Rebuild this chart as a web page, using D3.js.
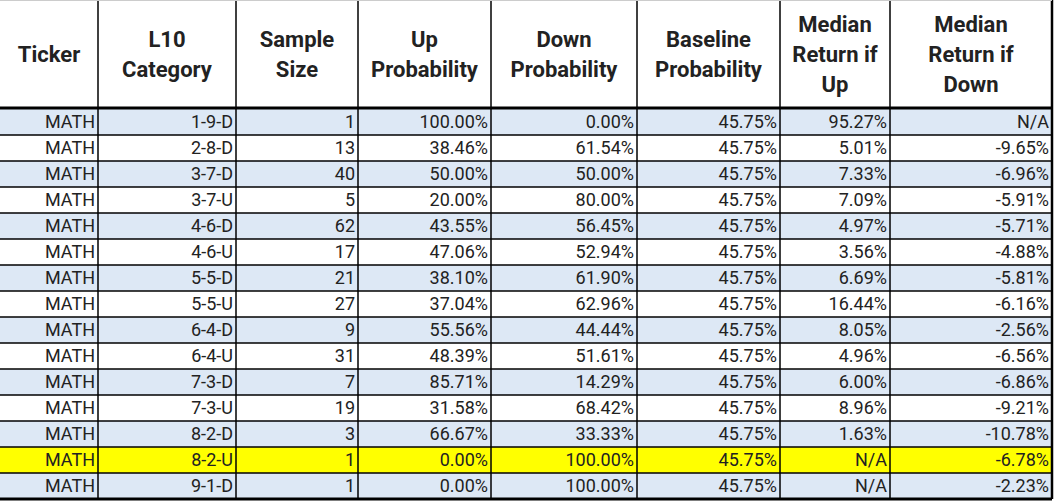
<!DOCTYPE html><html><head><meta charset="utf-8"><script src="https://cdn.jsdelivr.net/npm/d3@7"></script>
<style>body{margin:0;background:#fff}text{font-family:Roboto,sans-serif}</style></head><body><svg id="s" width="1055" height="501"></svg>
<script>
const headers=[["Ticker"],["L10","Category"],["Sample","Size"],["Up","Probability"],["Down","Probability"],["Baseline","Probability"],["Median","Return if","Up"],["Median","Return if","Down"]];
const categories=["1-9-D","2-8-D","3-7-D","3-7-U","4-6-D","4-6-U","5-5-D","5-5-U","6-4-D","6-4-U","7-3-D","7-3-U","8-2-D","8-2-U","9-1-D"];
const sampleSize=[1,13,40,5,62,17,21,27,9,31,7,19,3,1,1];
const upProb=["100.00%","38.46%","50.00%","20.00%","43.55%","47.06%","38.10%","37.04%","55.56%","48.39%","85.71%","31.58%","66.67%","0.00%","0.00%"];
const downProb=["0.00%","61.54%","50.00%","80.00%","56.45%","52.94%","61.90%","62.96%","44.44%","51.61%","14.29%","68.42%","33.33%","100.00%","100.00%"];
const baseline="45.75%";
const medUp=["95.27%","5.01%","7.33%","7.09%","4.97%","3.56%","6.69%","16.44%","8.05%","4.96%","6.00%","8.96%","1.63%","N/A","N/A"];
const medDown=["N/A","-9.65%","-6.96%","-5.91%","-5.71%","-4.88%","-5.81%","-6.16%","-2.56%","-6.56%","-6.86%","-9.21%","-10.78%","-6.78%","-2.23%"];
const highlight="8-2-U";
const edges=[0,98,236,358,491,637,780,890,1052];
const rows=categories.map((c,i)=>["MATH",c,sampleSize[i],upProb[i],downProb[i],baseline,medUp[i],medDown[i]]);
const svg=d3.select("#s");
const headH=108,rowH=26;
const y=i=>headH+1+i*rowH;
svg.selectAll("rect.r").data(rows).join("rect").attr("x",0).attr("y",(d,i)=>y(i)).attr("width",1052).attr("height",rowH)
 .attr("fill",(d,i)=>d[1]===highlight?"#ffff00":(i%2===0?"#dde8f5":"#fff"));
headers.forEach((h,j)=>{const cx=(edges[j]+edges[j+1])/2;const n=h.length;
 h.forEach((t,k)=>svg.append("text").attr("x",cx).attr("y",headH/2+(k-(n-1)/2)*30).attr("dy","0.36em")
  .attr("text-anchor","middle").attr("font-size",22).attr("font-weight","bold").attr("fill","#222").text(t));});
rows.forEach((r,i)=>r.forEach((v,j)=>svg.append("text").attr("x",edges[j+1]-3).attr("y",y(i)+rowH/2).attr("dy","0.36em")
 .attr("text-anchor","end").attr("font-size",18).attr("fill","#222").text(v)));
const g=svg.append("g").attr("stroke","#000");
rows.forEach((r,i)=>{if(i>0)g.append("line").attr("x1",0).attr("x2",1052).attr("y1",y(i)).attr("y2",y(i)).attr("stroke-width",1.3);});
g.append("line").attr("x1",0).attr("x2",1052).attr("y1",headH).attr("y2",headH).attr("stroke-width",3);
g.append("line").attr("x1",0).attr("x2",1052).attr("y1",y(rows.length)).attr("y2",y(rows.length)).attr("stroke-width",3);
edges.slice(1).forEach((e,k)=>g.append("line").attr("x1",e).attr("x2",e).attr("y1",0).attr("y2",y(rows.length)).attr("stroke-width",k===edges.length-2?2.5:1.5));
svg.append("line").attr("x1",0).attr("x2",1052).attr("y1",0.5).attr("y2",0.5).attr("stroke","#ccc");
</script></body></html>
